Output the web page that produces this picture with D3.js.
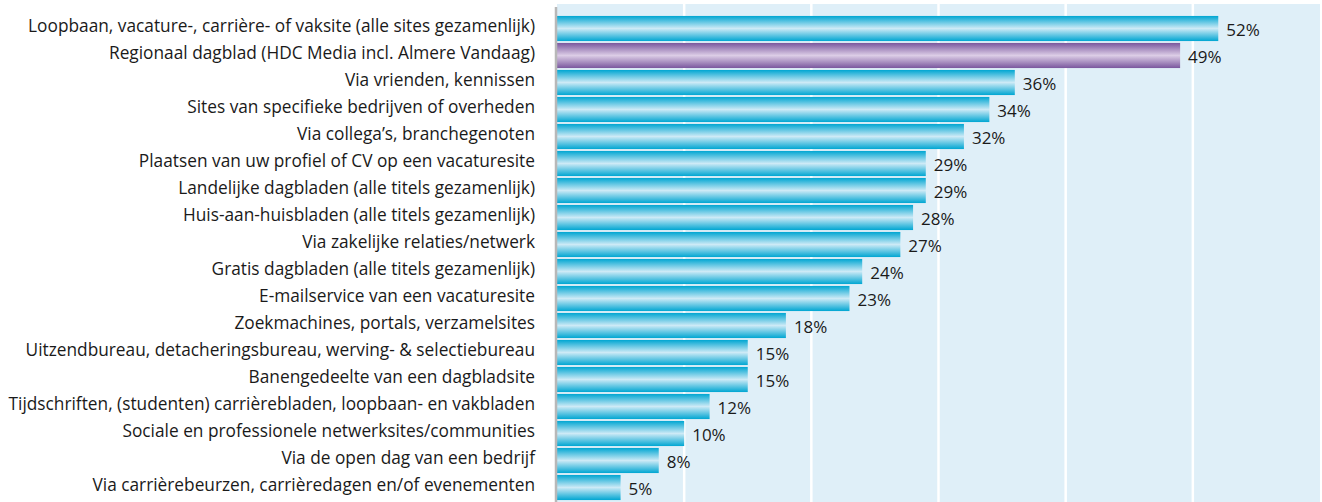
<!DOCTYPE html>
<html>
<head>
<meta charset="utf-8">
<script src="https://cdn.jsdelivr.net/npm/d3@7"></script>
<style>
  body { margin: 0; background: #fff; }
  text { font-family: "Open Sans", "Noto Sans", sans-serif; fill: #1a1a1a; }
</style>
</head>
<body>
<div id="chart"></div>
<script>
// categories, top to bottom
var categories = [
  "Loopbaan, vacature-, carrière- of vaksite (alle sites gezamenlijk)",
  "Regionaal dagblad (HDC Media incl. Almere Vandaag)",
  "Via vrienden, kennissen",
  "Sites van specifieke bedrijven of overheden",
  "Via collega’s, branchegenoten",
  "Plaatsen van uw profiel of CV op een vacaturesite",
  "Landelijke dagbladen (alle titels gezamenlijk)",
  "Huis-aan-huisbladen (alle titels gezamenlijk)",
  "Via zakelijke relaties/netwerk",
  "Gratis dagbladen (alle titels gezamenlijk)",
  "E-mailservice van een vacaturesite",
  "Zoekmachines, portals, verzamelsites",
  "Uitzendbureau, detacheringsbureau, werving- & selectiebureau",
  "Banengedeelte van een dagbladsite",
  "Tijdschriften, (studenten) carrièrebladen, loopbaan- en vakbladen",
  "Sociale en professionele netwerksites/communities",
  "Via de open dag van een bedrijf",
  "Via carrièrebeurzen, carrièredagen en/of evenementen"
];

// percentages
var values = [52, 49, 36, 34, 32, 29, 29, 28, 27, 24, 23, 18, 15, 15, 12, 10, 8, 5];

// the highlighted one
var highlight = ["Regionaal dagblad (HDC Media incl. Almere Vandaag)"];

var gridTicks = [10, 20, 30, 40, 50];

const W = 1322, H = 502;
const margin = {top: 4, right: 2, bottom: -12, left: 557};
const width = W - margin.left - margin.right,
      height = H - margin.top - margin.bottom;

const svg = d3.select("#chart")
  .append("svg")
    .attr("width", W)
    .attr("height", H);

// gradients
const defs = svg.append("defs");
function grad(id, edge, mid) {
  const g = defs.append("linearGradient")
    .attr("id", id)
    .attr("x1", 0).attr("y1", 0).attr("x2", 0).attr("y2", 1);
  g.append("stop").attr("offset", "0%").attr("stop-color", edge);
  g.append("stop").attr("offset", "50%").attr("stop-color", mid);
  g.append("stop").attr("offset", "100%").attr("stop-color", edge);
}
grad("blueGrad", "#00a6d2", "#cdeaf6");
grad("purpleGrad", "#7a579e", "#dccde6");

const g = svg.append("g")
    .attr("transform", `translate(${margin.left},${margin.top})`);

const x = d3.scaleLinear()
  .domain([0, 60])
  .range([0, width]);

const y = d3.scaleBand()
  .domain(categories)
  .range([11, 11 + 27 * categories.length])
  .paddingInner(0.07)
  .paddingOuter(0.035);

// background
g.append("rect")
  .attr("x", 0).attr("y", 0)
  .attr("width", width).attr("height", height)
  .attr("fill", "#dfeff8");

// white gridlines
g.selectAll(".grid")
  .data(gridTicks)
  .join("line")
    .attr("class", "grid")
    .attr("x1", d => x(d)).attr("x2", d => x(d))
    .attr("y1", 0).attr("y2", height)
    .attr("stroke", "#fff")
    .attr("stroke-width", 2.5);

// bars
g.selectAll(".bar")
  .data(values)
  .join("rect")
    .attr("class", "bar")
    .attr("x", 0)
    .attr("y", (d, i) => y(categories[i]))
    .attr("width", d => x(d))
    .attr("height", y.bandwidth())
    .attr("fill", (d, i) => highlight.includes(categories[i]) ? "url(#purpleGrad)" : "url(#blueGrad)");

// value labels
g.selectAll(".val")
  .data(values)
  .join("text")
    .attr("class", "val")
    .attr("x", d => x(d) + 8)
    .attr("y", (d, i) => y(categories[i]) + y.bandwidth() / 2 + 1.5)
    .attr("dy", "0.35em")
    .style("font-size", "17px")
    .text(d => d + "%");

// y axis
const yAxis = g.append("g")
  .call(d3.axisLeft(y).tickSize(0).tickPadding(22));
yAxis.select(".domain")
  .attr("stroke", "#b8b8b8")
  .attr("stroke-width", 2.5)
  .attr("d", `M-1,3V${height}`);
yAxis.selectAll(".tick text")
  .attr("dy", "0.2em")
  .style("font-size", "17.3px")
  .style("font-family", "'Open Sans', 'Noto Sans', sans-serif")
  .attr("fill", "#1a1a1a");
</script>
</body>
</html>
